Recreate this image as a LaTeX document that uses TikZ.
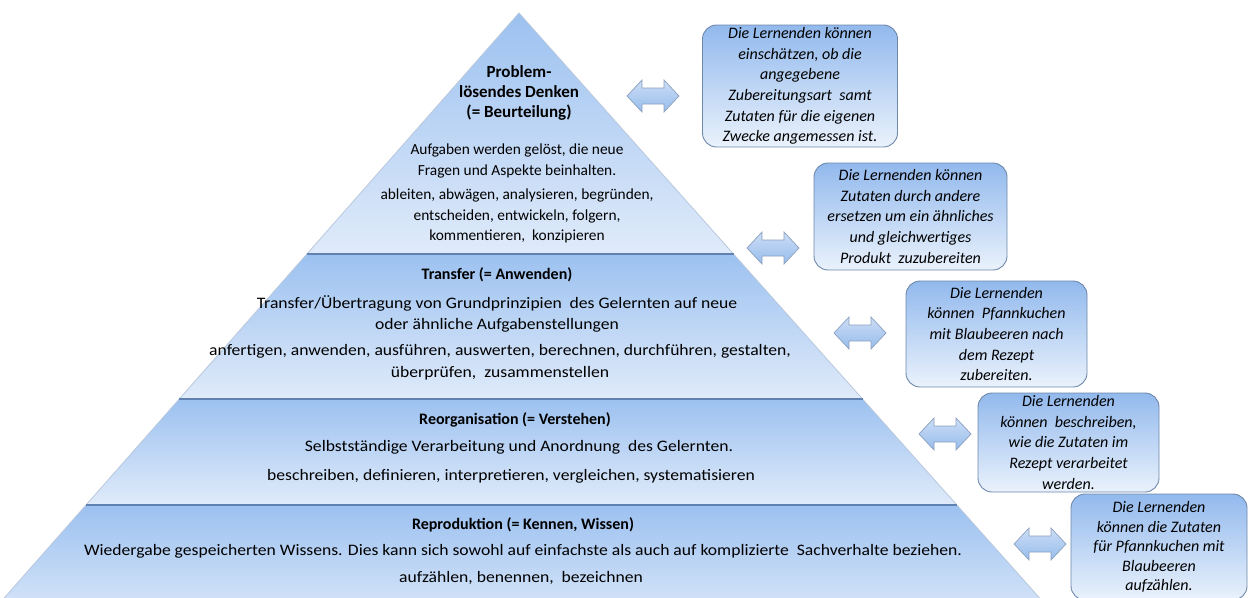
\documentclass[tikz,border=0pt]{standalone}
\usepackage{fontspec}
\setmainfont{Carlito}
\newfontfamily\widefont[FakeStretch=1.1]{Carlito}
\usetikzlibrary{calc}
\definecolor{lyrtop}{RGB}{156,193,240}
\definecolor{lyrbot}{RGB}{224,235,250}
\definecolor{sepline}{RGB}{96,130,178}
\definecolor{edgeline}{RGB}{185,200,220}
\definecolor{boxtop}{RGB}{146,185,237}
\definecolor{boxbot}{RGB}{234,242,252}
\definecolor{boxline}{RGB}{110,136,170}
\definecolor{arrtop}{RGB}{205,222,246}
\definecolor{arrbot}{RGB}{150,188,236}
\definecolor{arrline}{RGB}{140,160,190}
\tikzset{
  layertext/.style={align=center, font=\widefont\fontsize{16}{21.5}\selectfont, inner sep=0pt},
  toptext/.style={align=center, font=\fontsize{15.4}{20.5}\selectfont, inner sep=0pt},
  layerhead/.style={align=center, font=\fontsize{16}{20}\selectfont\bfseries, inner sep=0pt},
  tophead/.style={align=center, font=\fontsize{17}{20}\selectfont\bfseries, inner sep=0pt},
  goalbox/.style={draw=boxline, line width=0.9pt, rounded corners=14pt, top color=boxtop, bottom color=boxbot,
    align=center, font=\fontsize{16}{20.7}\selectfont\itshape, inner sep=0pt},
  dblarrow/.style={draw=arrline, line width=0.7pt, top color=arrtop, bottom color=arrbot},
  layerfill/.style={top color=lyrtop, bottom color=lyrbot},
}
\newcommand{\dblarr}[2]{%
  \path[dblarrow] (#1-26,#2) -- (#1-11,#2-16) -- (#1-11,#2-8) -- (#1+11,#2-8) -- (#1+11,#2-16)
    -- (#1+26,#2) -- (#1+11,#2+16) -- (#1+11,#2+8) -- (#1-11,#2+8) -- (#1-11,#2+16) -- cycle;}
\begin{document}
\begin{tikzpicture}[x=1pt,y=-1pt]
\useasboundingbox (0,0) rectangle (1250,597);
\begin{scope}
\clip (0,0) rectangle (1250,597);
% pyramid coordinates
\coordinate (apex) at (519,13);
\coordinate (l1) at (306.9,254); \coordinate (r1) at (733.5,254);
\coordinate (l2) at (179.3,399); \coordinate (r2) at (862.5,399);
\coordinate (l3) at (86,505);    \coordinate (r3) at (956.9,505);
\coordinate (l4) at (-6.4,610);  \coordinate (r4) at (1050.3,610);
% layers
\shade[layerfill] (apex) -- (r1) -- (l1) -- cycle;
\shade[layerfill] (l1) -- (r1) -- (r2) -- (l2) -- cycle;
\shade[layerfill] (l2) -- (r2) -- (r3) -- (l3) -- cycle;
\shade[top color=lyrtop, bottom color=lyrbot!85!lyrtop] (l3) -- (r3) -- (r4) -- (l4) -- cycle;
% outlines
\draw[edgeline, line width=0.8pt] (l4) -- (apex) -- (r4);
\draw[sepline, line width=1.2pt] (l1) -- (r1);
\draw[sepline, line width=1.2pt] (l2) -- (r2);
\draw[sepline, line width=1.2pt] (l3) -- (r3);

% texts in pyramid
\node[tophead] (h1) at (519,93) {Problem-\\lösendes Denken\\(= Beurteilung)};
\node[toptext] (d1) at (517,161) {Aufgaben werden gelöst, die neue\\Fragen und Aspekte beinhalten.};
\node[toptext] (v1) at (517,216) {ableiten, abwägen, analysieren, begründen,\\entscheiden, entwickeln, folgern,\\kommentieren,\ \ konzipieren};

\node[layerhead] (h2) at (497,275) {Transfer (= Anwenden)};
\node[layertext] (d2) at (497,314) {Transfer/Übertragung von Grundprinzipien\ \ des Gelernten auf neue\\oder ähnliche Aufgabenstellungen};
\node[layertext] (v2) at (500,362) {anfertigen, anwenden, ausführen, auswerten, berechnen, durchführen, gestalten,\\überprüfen,\ \ zusammenstellen};

\node[layerhead] (h3) at (515,420) {Reorganisation (= Verstehen)};
\node[layertext] (d3) at (519,447) {Selbstständige Verarbeitung und Anordnung\ \ des Gelernten.};
\node[layertext] (v3) at (511,476) {beschreiben, definieren, interpretieren, vergleichen, systematisieren};

\node[layerhead] (h4) at (523,525) {Reproduktion (= Kennen, Wissen)};
\node[layertext] (d4) at (523,551) {Wiedergabe gespeicherten Wissens. Dies kann sich sowohl auf einfachste als auch auf komplizierte\ \ Sachverhalte beziehen.};
\node[layertext] (v4) at (521,578) {aufzählen, benennen,\ \ bezeichnen};

% goal boxes
\node[goalbox, minimum width=195pt, minimum height=122pt] (b1) at (800,86)
  {Die Lernenden können\\einschätzen, ob die\\angegebene\\Zubereitungsart\ \ samt\\Zutaten für die eigenen\\Zwecke angemessen ist.};
\node[goalbox, minimum width=193pt, minimum height=107pt] (b2) at (910.5,216.5)
  {Die Lernenden können\\Zutaten durch andere\\ersetzen um ein ähnliches\\und gleichwertiges\\Produkt\ \ zuzubereiten};
\node[goalbox, minimum width=181pt, minimum height=106pt] (b3) at (996.5,334)
  {Die Lernenden\\können\ \ Pfannkuchen\\mit Blaubeeren nach\\dem Rezept\\zubereiten.};
\node[goalbox, minimum width=181pt, minimum height=99pt] (b4) at (1068.5,442.5)
  {Die Lernenden\\können\ \ beschreiben,\\wie die Zutaten im\\Rezept verarbeitet\\werden.};
\node[goalbox, minimum width=176pt, minimum height=106pt, font=\fontsize{16}{19.5}\selectfont\itshape] (b5) at (1159,547)
  {Die Lernenden\\können die Zutaten\\für Pfannkuchen mit\\Blaubeeren\\aufzählen.};

% double arrows
\dblarr{653}{96}
\dblarr{773}{248}
\dblarr{860}{333}
\dblarr{945}{434}
\dblarr{1040}{544}
\end{scope}
\end{tikzpicture}
\end{document}
